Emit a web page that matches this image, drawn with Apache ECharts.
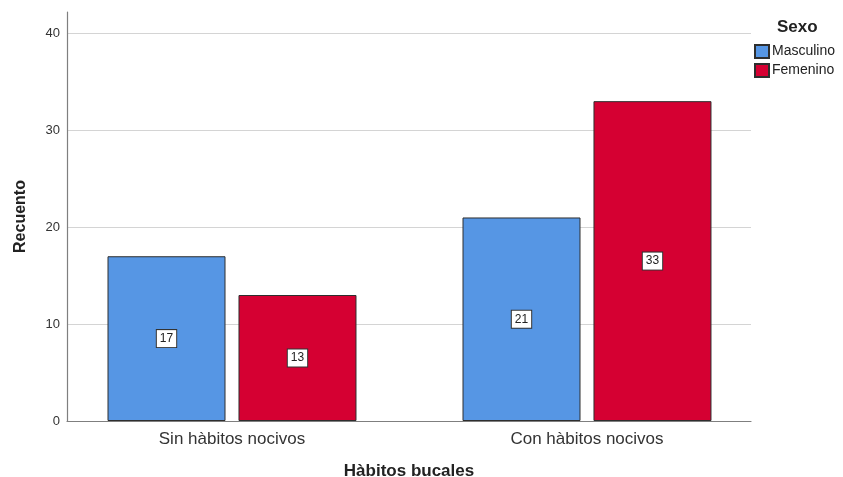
<!DOCTYPE html>
<html>
<head>
<meta charset="utf-8">
<script src="https://cdn.jsdelivr.net/npm/echarts@6/dist/echarts.min.js"></script>
<style>
  html, body { margin: 0; padding: 0; background: #ffffff; }
  #chart { width: 843px; height: 477px; }
</style>
</head>
<body>
<div id="chart"></div>
<script>
// Recuento por hábitos bucales y sexo
const categories = ['Sin hàbitos nocivos', 'Con hàbitos nocivos'];
const masculino = [17, 21];
const femenino = [13, 33];
const yTicks = [0, 10, 20, 30, 40];

const FONT = '"Liberation Sans", Arial, sans-serif';

// each category sits at an integer position on the x value axis (1, 2, ...)
const positions = categories.map((_, i) => i + 1);
const toPairs = (vals) => vals.map((v, i) => [positions[i], v]);

const valueLabel = {
  show: true,
  position: 'inside',
  color: '#222',
  fontFamily: FONT,
  fontSize: 12,
  backgroundColor: '#ffffff',
  borderColor: '#333333',
  borderWidth: 1,
  padding: [3, 3, 2, 3]
};

const chart = echarts.init(document.getElementById('chart'));
chart.setOption({
  animation: false,
  backgroundColor: '#ffffff',
  textStyle: { fontFamily: FONT },
  title: {
    text: 'Sexo',
    left: 777,
    top: 19,
    padding: 0,
    textStyle: { fontFamily: FONT, fontSize: 17, fontWeight: 'bold', color: '#222' }
  },
  legend: {
    orient: 'vertical',
    left: 754,
    top: 44,
    padding: 0,
    itemWidth: 14,
    itemHeight: 13,
    itemGap: 4,
    icon: 'rect',
    textStyle: { fontFamily: FONT, fontSize: 14, color: '#222', padding: [0, 0, 0, -2] },
    data: ['Masculino', 'Femenino']
  },
  grid: { left: 67, right: 92, top: 12, bottom: 56, containLabel: false, outerBoundsMode: 'none' },
  xAxis: {
    type: 'value',
    min: 0.5352,
    max: 2.462,
    name: 'Hàbitos bucales',
    nameLocation: 'middle',
    nameGap: 42,
    nameTextStyle: { fontFamily: FONT, fontSize: 17, fontWeight: 'bold', color: '#222' },
    axisLine: { show: true, onZero: false, lineStyle: { color: '#7f7f7f', width: 1.2 } },
    axisTick: { show: false },
    splitLine: { show: false },
    axisLabel: {
      customValues: positions,
      margin: 10,
      fontFamily: FONT,
      fontSize: 17,
      color: '#333',
      formatter: (v) => categories[Math.round(v) - 1] || ''
    }
  },
  yAxis: {
    type: 'value',
    min: 0,
    max: 42.2,
    interval: 10,
    name: 'Recuento',
    nameLocation: 'middle',
    nameGap: 38,
    nameTextStyle: { fontFamily: FONT, fontSize: 16, fontWeight: 'bold', color: '#222' },
    axisLine: { show: true, lineStyle: { color: '#7f7f7f', width: 1.2 } },
    axisTick: { show: false },
    axisLabel: {
      showMaxLabel: false,
      margin: 7,
      fontFamily: FONT,
      fontSize: 13,
      color: '#333',
      formatter: (v) => (yTicks.indexOf(v) >= 0 ? String(v) : '')
    },
    splitLine: { show: true, showMaxLine: false, lineStyle: { color: '#d4d4d4', width: 1 } }
  },
  series: [
    {
      name: 'Masculino',
      type: 'bar',
      data: toPairs(masculino),
      barWidth: 118,
      barGap: '11%',
      itemStyle: { color: '#5696e4', borderColor: '#2e2e2e', borderWidth: 1 },
      label: valueLabel
    },
    {
      name: 'Femenino',
      type: 'bar',
      data: toPairs(femenino),
      barWidth: 118,
      barGap: '11%',
      itemStyle: { color: '#d50032', borderColor: '#2e2e2e', borderWidth: 1 },
      label: valueLabel
    }
  ]
});
</script>
</body>
</html>
